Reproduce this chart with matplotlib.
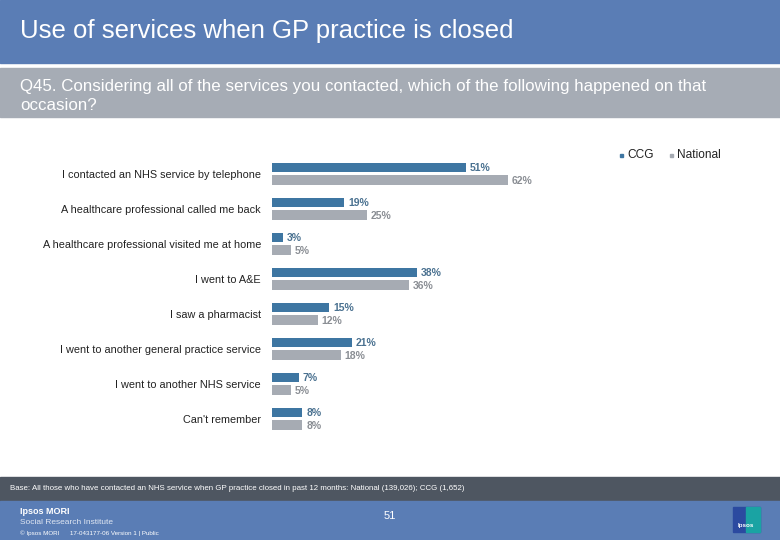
import matplotlib.pyplot as plt
from matplotlib.patches import Rectangle
import numpy as np

plt.rcParams['font.family'] = ['Liberation Sans', 'DejaVu Sans']

categories = [
    "I contacted an NHS service by telephone",
    "A healthcare professional called me back",
    "A healthcare professional visited me at home",
    "I went to A&E",
    "I saw a pharmacist",
    "I went to another general practice service",
    "I went to another NHS service",
    "Can't remember",
]
ccg = [51, 19, 3, 38, 15, 21, 7, 8]
national = [62, 25, 5, 36, 12, 18, 5, 8]

CCG_COLOR = "#3e76a2"
NAT_COLOR = "#a6abb3"
CCG_TEXT = "#4a7190"
NAT_TEXT = "#8a8e94"

W, H = 780, 540
fig = plt.figure(figsize=(W / 100, H / 100), dpi=100)
fig.patch.set_facecolor("white")


def px_rect(x0, y0, x1, y1, color):
    # rectangle in pixel coords (y from top)
    fig.patches.append(Rectangle((x0 / W, 1 - y1 / H), (x1 - x0) / W, (y1 - y0) / H,
                                 transform=fig.transFigure, color=color, zorder=0))


def px_text(x, y, s, **kw):
    fig.text(x / W, 1 - y / H, s, **kw)


# header bands
px_rect(0, 0, W, 63, "#5a7db5")
px_rect(0, 68, W, 117, "#a6acb5")
px_text(20, 31, "Use of services when GP practice is closed", color="white",
        fontsize=18.5, va="center", ha="left")
px_text(20, 86, "Q45. Considering all of the services you contacted, which of the following happened on that",
        color="white", fontsize=12.2, va="center", ha="left")
px_text(20, 105, "occasion?", color="white", fontsize=12.2, va="center", ha="left")

# footer bands
px_rect(0, 477, W, 501, "#4e5661")
px_rect(0, 501, W, H, "#5a7db5")
px_text(10, 489, "Base: All those who have contacted an NHS service when GP practice closed in past 12 months: National (139,026); CCG (1,652)",
        color="white", fontsize=5.7, va="center", ha="left")
px_text(20, 511, "Ipsos MORI", color="white", fontsize=6.5, va="center", ha="left", fontweight="bold")
px_text(20, 522, "Social Research Institute", color="#dfe6f2", fontsize=6, va="center", ha="left")
px_text(20, 533, "© Ipsos MORI      17-043177-06 Version 1 | Public", color="white", fontsize=4.5, va="center", ha="left")
px_text(390, 516, "51", color="white", fontsize=8, va="center", ha="center")
px_rect(733, 507, 760, 532, "#2b4aa0")
px_rect(746, 507, 760, 532, "#1aa3a3")
px_text(746, 526, "Ipsos", color="white", fontsize=4.5, va="center", ha="center", fontweight="bold")

# chart axes: x 0-100 maps to 272..653 px, rows 35 px apart
ax = fig.add_axes([272 / W, 1 - 436.5 / H, 381 / W, 280 / H])
ax.set_xlim(0, 100)
ax.set_ylim(len(categories) - 0.5, -0.5)
y = np.arange(len(categories))
bh = 0.28
ax.barh(y - 0.185, ccg, height=bh, color=CCG_COLOR)
ax.barh(y + 0.175, national, height=bh, color=NAT_COLOR)
for i, (c, n) in enumerate(zip(ccg, national)):
    ax.text(c + 1.0, i - 0.185, f"{c}%", color=CCG_TEXT, fontsize=7.5, fontweight="bold",
            va="center", ha="left")
    ax.text(n + 1.0, i + 0.19, f"{n}%", color=NAT_TEXT, fontsize=7.5, fontweight="bold",
            va="center", ha="left")
ax.set_yticks(y)
ax.set_yticklabels(categories, fontsize=7.85, color="#222222")
ax.tick_params(axis="y", length=0, pad=8)
ax.set_xticks([])
for s in ax.spines.values():
    s.set_visible(False)
ax.patch.set_alpha(0)

# legend
px_rect(620, 154, 623, 157, CCG_COLOR)
px_text(627, 155, "CCG", fontsize=8.6, color="#222222", va="center", ha="left")
px_rect(670, 154, 673, 157, NAT_COLOR)
px_text(677, 155, "National", fontsize=8.6, color="#222222", va="center", ha="left")

fig.savefig("out.png", dpi=100)
